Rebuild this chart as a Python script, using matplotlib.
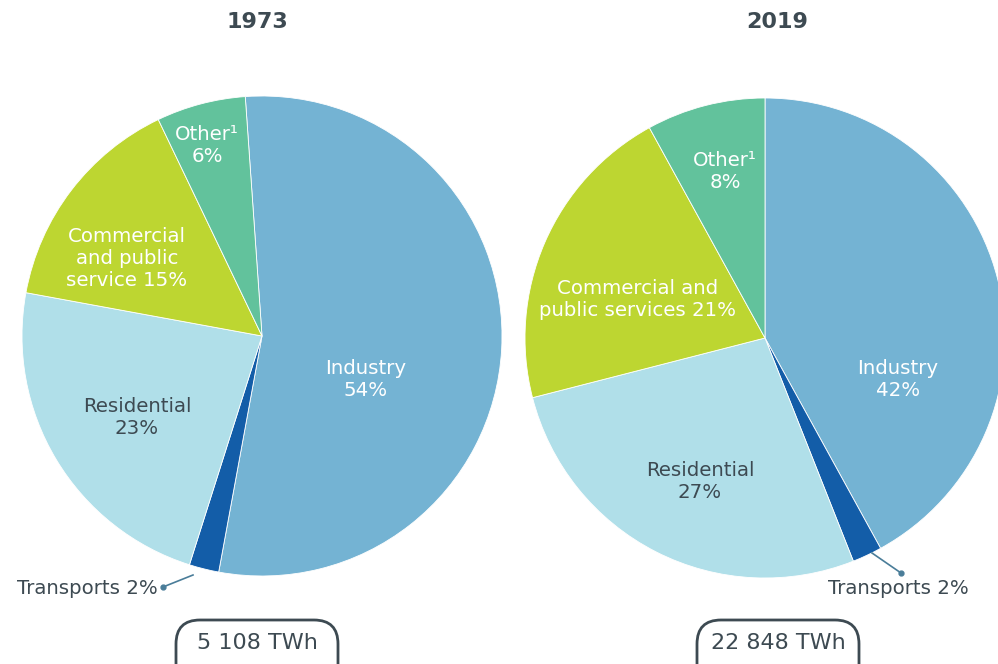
import matplotlib.pyplot as plt
from matplotlib.patches import FancyBboxPatch

plt.rcParams['font.family'] = ['DejaVu Sans']

# -------------------------------------------------------------------------
# DATA
# -------------------------------------------------------------------------
sectors = ["Industry", "Transports", "Residential", "Commercial", "Other"]
share_1973 = [54, 2, 23, 15, 6]
share_2019 = [42, 2, 27, 21, 8]
totals = ["5 108 TWh", "22 848 TWh"]
years = ["1973", "2019"]

colors = ["#74b3d3", "#135da8", "#b0dfe9", "#bdd631", "#62c29c"]
DARK = "#3d4a52"
H = 664

fig = plt.figure(figsize=(9.98, 6.64), dpi=100)
ax = fig.add_axes([0, 0, 1, 1])


def y(py):
    # pixel row (from top) -> data y
    return H - py


# -------------------------------------------------------------------------
# PIES
# -------------------------------------------------------------------------
ax.pie(share_1973, colors=colors, center=(262, y(336)), radius=240,
       startangle=94, counterclock=False,
       wedgeprops=dict(linewidth=0.6, edgecolor="white"))
ax.pie(share_2019, colors=colors, center=(765, y(338)), radius=240,
       startangle=90, counterclock=False,
       wedgeprops=dict(linewidth=0.6, edgecolor="white"))

ax.set_xlim(0, 998)
ax.set_ylim(0, H)
ax.set_aspect("auto")
ax.axis("off")

# -------------------------------------------------------------------------
# LABELS
# -------------------------------------------------------------------------
fs = 14.2
lab = dict(ha="center", va="center", fontsize=fs, linespacing=1.2)

# 1973
ax.text(207, y(145), "Other¹\n6%", color="white", **lab)
ax.text(127, y(258), "Commercial\nand public\nservice 15%", color="white", **lab)
ax.text(137, y(417), "Residential\n23%", color=DARK, **lab)
ax.text(366, y(380), "Industry\n54%", color="white", **lab)

# 2019
ax.text(725, y(172), "Other¹\n8%", color="white", **lab)
ax.text(638, y(300), "Commercial and\npublic services 21%", color="white", **lab)
ax.text(700, y(482), "Residential\n27%", color=DARK, **lab)
ax.text(898, y(380), "Industry\n42%", color="white", **lab)

# transports callouts
line_c = "#4a7d99"
ax.plot([193, 163], [y(575), y(587)], color=line_c, lw=1.2)
ax.plot([163], [y(587)], "o", color=line_c, ms=3.5)
ax.text(158, y(589), "Transports 2%", ha="right", va="center",
        fontsize=fs, color=DARK)

ax.plot([872, 901], [y(553), y(573)], color=line_c, lw=1.2)
ax.plot([901], [y(573)], "o", color=line_c, ms=3.5)
ax.text(828, y(589), "Transports 2%", ha="left", va="center",
        fontsize=fs, color=DARK)

# titles
ax.text(257, y(22), years[0], ha="center", va="center", fontsize=16,
        fontweight="bold", color=DARK)
ax.text(777, y(22), years[1], ha="center", va="center", fontsize=16,
        fontweight="bold", color=DARK)

# totals in rounded boxes
for cx, txt in [(257, totals[0]), (778, totals[1])]:
    box = FancyBboxPatch((cx - 81, y(700)), 162, 80,
                         boxstyle="round,pad=0,rounding_size=24",
                         fc="white", ec=DARK, lw=2, clip_on=False)
    ax.add_patch(box)
    ax.text(cx, y(643), txt, ha="center", va="center", fontsize=16, color=DARK)

fig.savefig("out.png", dpi=100)
